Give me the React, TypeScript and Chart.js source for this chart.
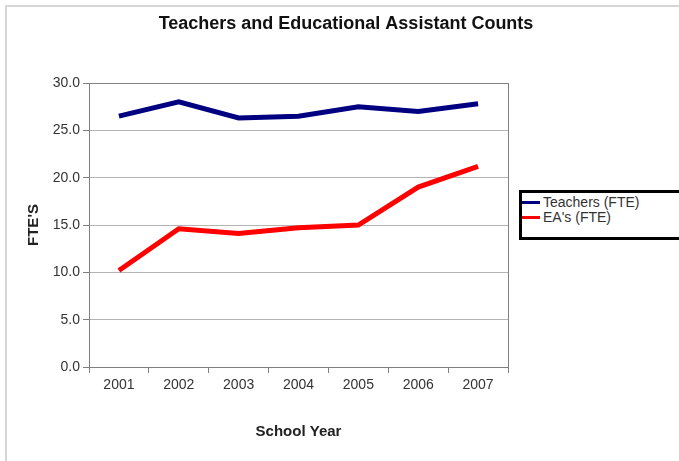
import React, { useEffect, useRef } from "react";
import { Chart, registerables } from "chart.js";

Chart.register(...registerables);

const years = ["2001", "2002", "2003", "2004", "2005", "2006", "2007"];
const teachers = [26.5, 28.0, 26.3, 26.5, 27.5, 27.0, 27.8];
const eas = [10.2, 14.6, 14.1, 14.7, 15.0, 19.0, 21.2];
const seriesNames = ["Teachers (FTE)", "EA's (FTE)"];
const seriesColors = ["#000080", "#ff0000"];
const chartTitle = "Teachers and Educational Assistant Counts";

const FONT = "'Liberation Sans', Arial, sans-serif";

const plotBorder = {
  id: "plotBorder",
  beforeDatasetsDraw(chart: any) {
    const { ctx, chartArea } = chart;
    ctx.save();
    ctx.strokeStyle = "#808080";
    ctx.lineWidth = 1;
    ctx.strokeRect(
      Math.round(chartArea.left) + 0.5,
      Math.round(chartArea.top) + 0.5,
      Math.round(chartArea.right - chartArea.left),
      Math.round(chartArea.bottom - chartArea.top)
    );
    ctx.restore();
  },
};

const titlePlugin = {
  id: "customTitle",
  afterDraw(chart: any) {
    const { ctx } = chart;
    ctx.save();
    ctx.fillStyle = "#111";
    ctx.font = `bold 18px ${FONT}`;
    ctx.textAlign = "center";
    ctx.textBaseline = "middle";
    ctx.fillText(chartTitle, 346, 24);
    ctx.restore();
  },
};

export default function App() {
  const ref = useRef<HTMLCanvasElement | null>(null);

  useEffect(() => {
    if (!ref.current) return;
    const chart = new Chart(ref.current, {
      type: "line",
      data: {
        labels: years,
        datasets: [
          {
            label: seriesNames[0],
            data: teachers,
            borderColor: seriesColors[0],
            backgroundColor: seriesColors[0],
            borderWidth: 5,
            pointRadius: 0,
            tension: 0,
          },
          {
            label: seriesNames[1],
            data: eas,
            borderColor: seriesColors[1],
            backgroundColor: seriesColors[1],
            borderWidth: 5,
            pointRadius: 0,
            tension: 0,
          },
        ],
      },
      options: {
        animation: false,
        responsive: false,
        devicePixelRatio: 1,
        layout: { padding: { left: 14, right: 171, top: 83, bottom: 10 } },
        plugins: {
          legend: { display: false },
          tooltip: { enabled: false },
          title: { display: false },
        },
        scales: {
          x: {
            type: "category",
            offset: true,
            grid: {
              display: true,
              drawOnChartArea: false,
              drawTicks: true,
              offset: true,
              tickLength: 6,
              tickColor: "#808080",
              color: "#808080",
            },
            border: { display: true, color: "#808080", width: 1 },
            ticks: {
              color: "#333",
              font: { family: FONT, size: 14 },
              padding: 4,
              maxRotation: 0,
            },
            title: {
              display: true,
              text: "School Year",
              color: "#222",
              font: { family: FONT, size: 15, weight: "bold", lineHeight: 1.2 },
              padding: { top: 0, bottom: 10 },
            },
            afterFit: (scale: any) => {
              scale.height = 84;
            },
          },
          y: {
            min: 0,
            max: 30,
            ticks: {
              stepSize: 5,
              color: "#333",
              font: { family: FONT, size: 14 },
              padding: 3,
              callback: (v: any) => Number(v).toFixed(1),
            },
            grid: {
              color: "#b4b4b4",
              lineWidth: 1,
              tickLength: 6,
              tickColor: "#808080",
            },
            border: { display: true, color: "#808080", width: 1 },
            title: {
              display: true,
              text: "FTE'S",
              color: "#222",
              font: { family: FONT, size: 15, weight: "bold", lineHeight: 1.2 },
              padding: { top: 11, bottom: 0 },
            },
            afterFit: (scale: any) => {
              scale.width = 75;
            },
          },
        },
      },
      plugins: [plotBorder, titlePlugin],
    });
    return () => chart.destroy();
  }, []);

  return (
    <div
      style={{
        position: "fixed",
        left: 0,
        top: 0,
        width: 679,
        height: 461,
        background: "#fff",
        overflow: "hidden",
      }}
    >
      <div
        style={{
          position: "absolute",
          left: 5,
          top: 5,
          right: 0,
          bottom: 0,
          borderTop: "2px solid #d6d6d6",
          borderLeft: "2px solid #d6d6d6",
        }}
      />
      <canvas
        ref={ref}
        width={679}
        height={461}
        style={{ position: "absolute", left: 0, top: 0, width: 679, height: 461 }}
      />
      <div
        style={{
          position: "absolute",
          left: 519,
          top: 190,
          width: 170,
          height: 50,
          boxSizing: "border-box",
          border: "3px solid #000",
          background: "#fff",
          fontFamily: FONT,
          fontSize: 14,
          color: "#333",
          paddingTop: 2,
        }}
      >
        {seriesNames.map((name, i) => (
          <div
            key={name}
            style={{ display: "flex", alignItems: "center", height: 15, lineHeight: "15px" }}
          >
            <span
              style={{
                display: "inline-block",
                width: 18,
                height: 3,
                background: seriesColors[i],
                marginRight: 3,
              }}
            />
            <span>{name}</span>
          </div>
        ))}
      </div>
    </div>
  );
}
